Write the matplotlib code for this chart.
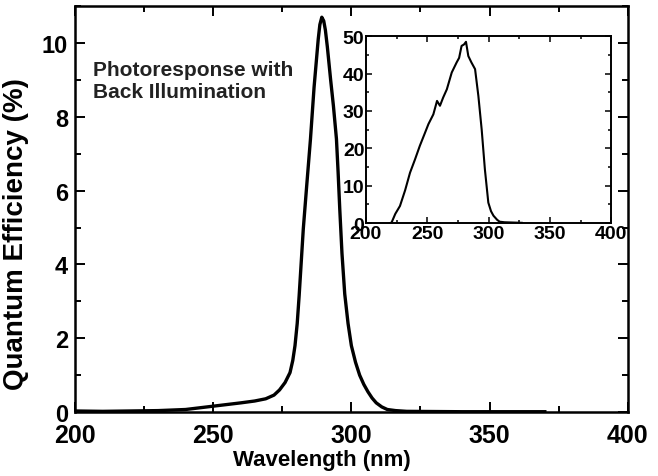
import numpy as np
import matplotlib.pyplot as plt
from matplotlib.ticker import MultipleLocator

plt.rcParams['font.family'] = ['Liberation Sans', 'DejaVu Sans']
plt.rcParams['font.weight'] = 'bold'

# main spectrum: quantum efficiency (%) vs wavelength (nm)
wl = [200, 210, 220, 230, 240, 250, 260, 265, 269, 272, 274, 276, 277.8,
      278.8, 279.6, 280.4, 281.1, 282.6, 283.8, 285.2, 286.5, 288, 288.6,
      289.3, 290, 290.6, 291.3, 292.5, 293.5, 294.6, 295.2, 295.8, 296.6,
      297.6, 298.8, 300, 301.5, 303, 304.5, 306, 307.5, 309, 311, 313, 316,
      320, 340, 370]
qe = [0.03, 0.02, 0.03, 0.04, 0.07, 0.16, 0.25, 0.3, 0.36, 0.46, 0.6, 0.8,
      1.07, 1.4, 1.8, 2.4, 3.15, 4.96, 6.1, 7.4, 8.8, 10.1, 10.5, 10.7,
      10.6, 10.35, 9.9, 9.0, 8.3, 7.4, 6.5, 5.5, 4.3, 3.2, 2.4, 1.8, 1.35,
      1.0, 0.75, 0.55, 0.38, 0.25, 0.14, 0.07, 0.04, 0.02, 0.01, 0.01]

# inset spectrum
wl_in = [219.6, 221, 224, 227.8, 232, 236, 240, 244, 248, 251, 255, 258,
         260.4, 263, 266, 270, 274, 276, 278, 280, 281.6, 283.5, 286, 289,
         291.7, 294.4, 297, 299.8, 302, 304, 307, 309, 313, 317.6, 327]
qe_in = [0, 0.2, 2.5, 4.6, 8.8, 13.5, 17.0, 20.7, 24.0, 26.5, 29.1, 32.7,
         31.4, 33.6, 35.8, 40.3, 43, 44.2, 47.4, 47.8, 48.5, 44.7, 43, 41.2,
         34, 25, 14.4, 5.5, 3.2, 2, 0.9, 0.4, 0.25, 0.2, 0.1]

fig = plt.figure(figsize=(6.58, 4.77), dpi=100)
ax = fig.add_axes([0.114, 0.134, 0.840, 0.851])
ax.plot(wl, qe, color='black', lw=2.4, solid_joinstyle='round')
ax.set_xlim(200, 400)
ax.set_ylim(0, 11)
ax.xaxis.set_major_locator(MultipleLocator(50))
ax.xaxis.set_minor_locator(MultipleLocator(25))
ax.yaxis.set_major_locator(MultipleLocator(2))
ax.yaxis.set_minor_locator(MultipleLocator(1))
ax.tick_params(which='both', direction='in', top=True, right=True,
               labelsize=18, width=1.4)
ax.tick_params(axis='y', labelsize=17)
ax.tick_params(which='major', length=7)
ax.tick_params(axis='x', which='major', pad=8)
ax.tick_params(axis='y', which='major', pad=5)
ax.tick_params(which='minor', length=4)
for s in ax.spines.values():
    s.set_linewidth(1.8)
ax.set_xlabel('Wavelength (nm)', fontsize=16, fontweight='bold', va='top')
ax.xaxis.set_label_coords(0.447, -0.092)
ax.set_ylabel('Quantum Efficiency (%)', fontsize=20, fontweight='bold')
ax.yaxis.set_label_coords(-0.083, 0.44)
ax.text(0.033, 0.868, 'Photoresponse with\nBack Illumination',
        transform=ax.transAxes, fontsize=15, fontweight='bold',
        va='top', ha='left', color='#222222', linespacing=1.2)

ins = fig.add_axes([0.556, 0.530, 0.373, 0.392])
ins.plot(wl_in, qe_in, color='black', lw=1.5)
ins.set_xlim(200, 400)
ins.set_ylim(0, 50)
ins.xaxis.set_major_locator(MultipleLocator(50))
ins.xaxis.set_minor_locator(MultipleLocator(25))
ins.yaxis.set_major_locator(MultipleLocator(10))
ins.yaxis.set_minor_locator(MultipleLocator(5))
ins.tick_params(which='both', direction='in', top=True, right=True,
                labelsize=14, width=1.1)
ins.tick_params(which='major', length=4, pad=1)
ins.tick_params(which='minor', length=2)
for s in ins.spines.values():
    s.set_linewidth(1.4)

fig.savefig('out.png', dpi=100)
